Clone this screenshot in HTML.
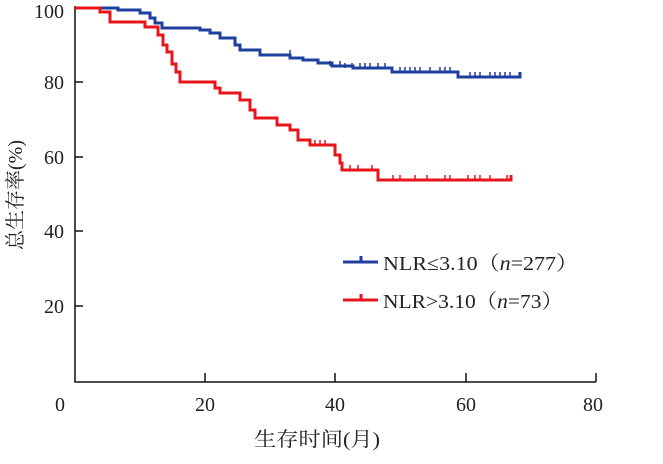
<!DOCTYPE html>
<html><head><meta charset="utf-8"><style>
body{margin:0;background:#fff;}
svg text{font-family:"Liberation Serif","Noto Serif CJK SC",serif;fill:#222;}
</style></head><body>
<svg width="663" height="459" viewBox="0 0 663 459" xmlns="http://www.w3.org/2000/svg">
<g stroke="#111" stroke-width="1.5" fill="none">
<path d="M75,6 V382 H596"/>
<path d="M75,8 H83 M75,82 H83 M75,157 H83 M75,231 H83 M75,306 H83"/>
<path d="M205,382 V373 M335,382 V373 M466,382 V373 M596,382 V373"/>
</g>
<g font-size="20" text-anchor="end">
<text x="64" y="18">100</text><text x="64" y="89">80</text><text x="64" y="164">60</text><text x="64" y="238">40</text><text x="64" y="313">20</text>
</g>
<g font-size="20" text-anchor="middle">
<text x="60" y="411">0</text><text x="205" y="411">20</text><text x="335" y="411">40</text><text x="466" y="411">60</text><text x="593" y="411">80</text>
</g>
<text x="254" y="446" font-size="20" textLength="126" lengthAdjust="spacingAndGlyphs">生存时间(月)</text>
<text transform="translate(22,195) rotate(-90)" font-size="20" text-anchor="middle">总生存率(%)</text>
<path d="M75,8 H118 V10 H140 V13 H150 V18 H155 V23 H162 V28 H200 V30 H210 V33 H220 V38 H235 V45 H240 V50 H260 V55 H290 V58 H303 V60 H318 V63 H332 V66 H353 V68 H392 V72 H458 V77 H520 V72" fill="none" stroke="#1f3f9f" stroke-width="3"/>
<path d="M290,55 V50 M330,66 V61 M340,66 V61 M345,68 V63 M352,68 V63 M360,68 V63 M365,68 V63 M370,68 V63 M378,68 V63 M385,68 V63 M400,72 V67 M405,72 V67 M410,72 V67 M415,72 V67 M420,72 V67 M430,72 V67 M440,72 V67 M445,72 V67 M450,72 V67 M470,77 V72 M475,77 V72 M480,77 V72 M490,77 V72 M495,77 V72 M500,77 V72 M505,77 V72 M510,77 V72" stroke="#1f3f9f" stroke-width="1.5"/>
<path d="M75,8 H100 V12 H110 V22 H145 V27 H158 V35 H163 V45 H167 V52 H172 V64 H176 V72 H180 V82 H215 V88 H220 V93 H240 V100 H250 V110 H255 V118 H277 V125 H290 V130 H298 V140 H310 V145 H335 V155 H340 V163 H342 V170 H378 V180 H511 V175" fill="none" stroke="#e8141c" stroke-width="3"/>
<path d="M315,145 V140 M320,145 V140 M325,145 V140 M350,170 V165 M358,170 V165 M372,170 V165 M393,180 V175 M400,180 V175 M415,180 V175 M427,180 V175 M445,180 V175 M450,180 V175 M468,180 V175 M475,180 V175 M480,180 V175 M490,180 V175 M507,180 V175" stroke="#e8141c" stroke-width="1.5"/>
<path d="M343,262 H378 M361,262 V256" stroke="#1f3f9f" stroke-width="3"/>
<path d="M343,300 H378 M361,300 V294" stroke="#e8141c" stroke-width="3"/>
<text x="383" y="270" font-size="20" textLength="195" lengthAdjust="spacingAndGlyphs">NLR≤3.10（<tspan font-style="italic">n</tspan>=277）</text>
<text x="383" y="308" font-size="20" textLength="180" lengthAdjust="spacingAndGlyphs">NLR&gt;3.10（<tspan font-style="italic">n</tspan>=73）</text>
</svg>
</body></html>
